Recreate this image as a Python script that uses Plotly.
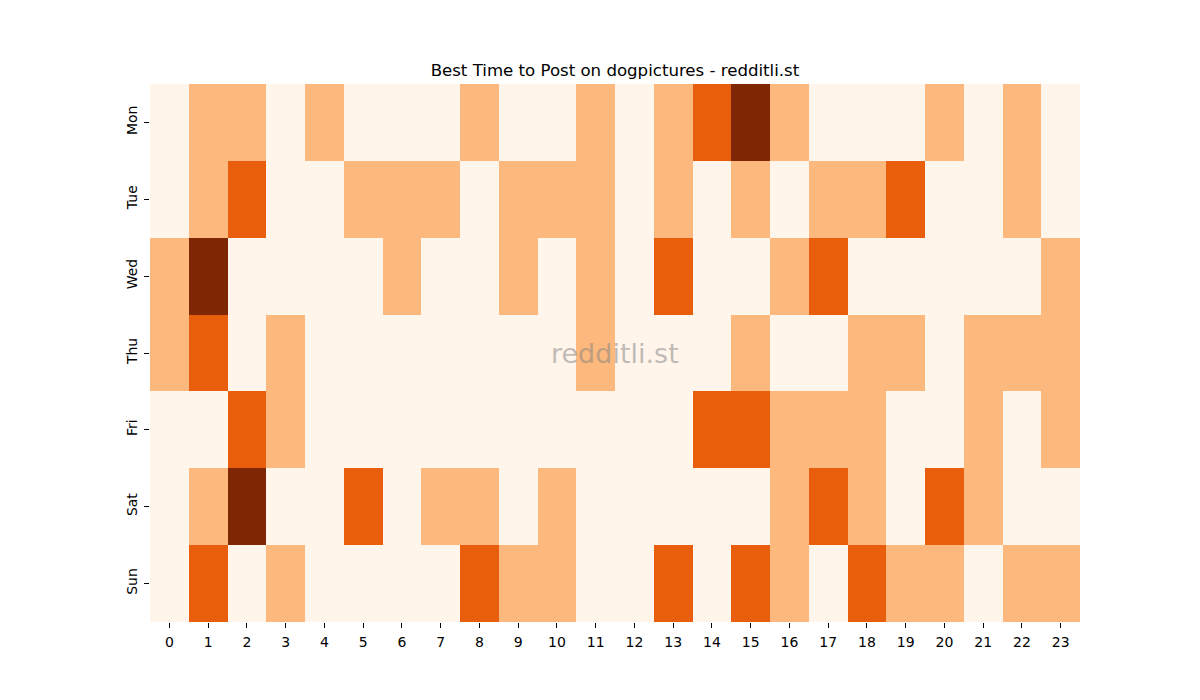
import plotly.graph_objects as go

days = ["Mon", "Tue", "Wed", "Thu", "Fri", "Sat", "Sun"]
hours = list(range(24))

mon = [0, 1, 1, 0, 1, 0, 0, 0, 1, 0, 0, 1, 0, 1, 2, 3, 1, 0, 0, 0, 1, 0, 1, 0]
tue = [0, 1, 2, 0, 0, 1, 1, 1, 0, 1, 1, 1, 0, 1, 0, 1, 0, 1, 1, 2, 0, 0, 1, 0]
wed = [1, 3, 0, 0, 0, 0, 1, 0, 0, 1, 0, 1, 0, 2, 0, 0, 1, 2, 0, 0, 0, 0, 0, 1]
thu = [1, 2, 0, 1, 0, 0, 0, 0, 0, 0, 0, 1, 0, 0, 0, 1, 0, 0, 1, 1, 0, 1, 1, 1]
fri = [0, 0, 2, 1, 0, 0, 0, 0, 0, 0, 0, 0, 0, 0, 2, 2, 1, 1, 1, 0, 0, 1, 0, 1]
sat = [0, 1, 3, 0, 0, 2, 0, 1, 1, 0, 1, 0, 0, 0, 0, 0, 1, 2, 1, 0, 2, 1, 0, 0]
sun = [0, 2, 0, 1, 0, 0, 0, 0, 2, 1, 1, 0, 0, 2, 0, 2, 1, 0, 2, 1, 1, 0, 1, 1]

z = [mon, tue, wed, thu, fri, sat, sun]

c0, c1, c2, c3 = "#fff5eb", "#fdb87d", "#e95e0d", "#7f2704"
colorscale = [
    [0.0, c0], [0.1667, c0],
    [0.1667, c1], [0.5, c1],
    [0.5, c2], [0.8333, c2],
    [0.8333, c3], [1.0, c3],
]

fig = go.Figure(go.Heatmap(
    z=z, x=hours, y=days, zmin=0, zmax=3,
    colorscale=colorscale, showscale=False, xgap=0, ygap=0,
))

font = "DejaVu Sans, Liberation Sans, sans-serif"
fig.update_layout(
    width=1200, height=700,
    margin=dict(l=142, r=128, t=76, b=86),
    paper_bgcolor="white", plot_bgcolor="white",
    font=dict(family=font, size=14, color="black"),
    title=dict(text="Best Time to Post on dogpictures - redditli.st",
               x=0.5058, xanchor="center", y=0.911, yanchor="middle",
               font=dict(size=16.6, family=font, color="black")),
    xaxis=dict(tickmode="array", tickvals=hours, ticktext=[str(h) for h in hours],
               ticks="outside", ticklen=5, tickcolor="black", showgrid=False,
               zeroline=False, showline=False, range=[-0.5, 23.5],
               tickfont=dict(size=14), ticklabelstandoff=2),
    yaxis=dict(autorange="reversed", ticks="outside", ticklen=5, tickcolor="black",
               showgrid=False, zeroline=False, showline=False, tickangle=-90,
               tickfont=dict(size=14), ticklabelstandoff=1),
    annotations=[dict(text="redditli.st", x=0.5, y=0.5, xref="paper", yref="paper",
                      showarrow=False, font=dict(size=27, family=font,
                                                 color="rgba(128,128,128,0.5)"))],
)

fig.write_html("out.html")
